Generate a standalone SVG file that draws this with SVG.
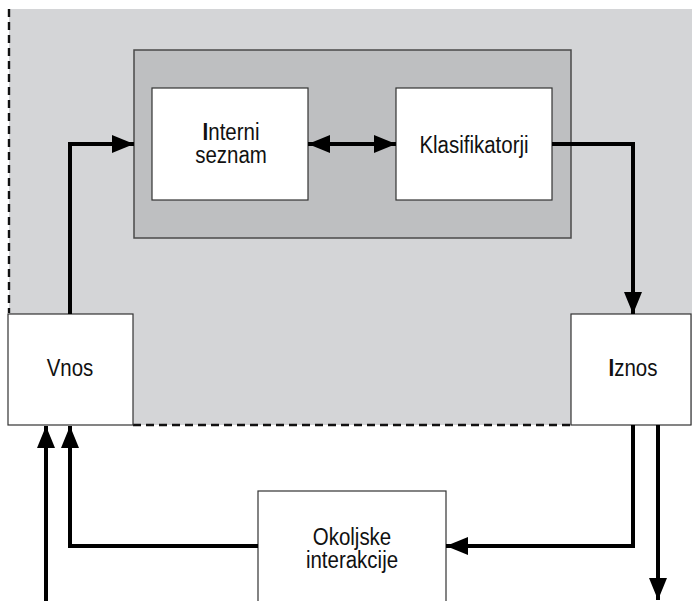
<svg xmlns="http://www.w3.org/2000/svg" width="692" height="601" viewBox="0 0 692 601">
  <defs>
    <marker id="ah" viewBox="0 0 22 18" refX="22" refY="9" markerWidth="22" markerHeight="18" markerUnits="userSpaceOnUse" orient="auto-start-reverse">
      <path d="M0,0 L22,9 L0,18 Z" fill="#000"/>
    </marker>
    <style>
      .box { fill: #fff; stroke: #333; stroke-width: 1.2; }
      .lbl { font-family: "Liberation Sans", Arial, sans-serif; font-size: 23px; fill: #111; text-anchor: middle; }
      .cap { font-weight: bold; }
      .wire { fill: none; stroke: #000; stroke-width: 4; }
      .dash { fill: none; stroke: #111; stroke-width: 2.4; stroke-dasharray: 8 5; }
    </style>
  </defs>

  <rect width="692" height="601" fill="#fff"/>

  <!-- system boundary -->
  <g id="system">
    <rect x="9" y="9" width="683" height="416" fill="#d4d5d7"/>
    <path class="dash" d="M9,9 V313"/>
    <path class="dash" d="M133,425 H571"/>
  </g>

  <!-- inner processing block -->
  <g id="core">
    <rect x="134" y="50" width="437" height="188" fill="#bebfc1" stroke="#4a4a4a" stroke-width="1.5"/>
  </g>

  <g id="interni-seznam">
    <rect class="box" x="152" y="88" width="156" height="112"/>
    <text class="lbl" transform="translate(231,140) scale(0.89,1)"><tspan x="0" y="0"><tspan class="cap">I</tspan>nterni</tspan><tspan x="0" y="23">seznam</tspan></text>
  </g>

  <g id="klasifikatorji">
    <rect class="box" x="396" y="88" width="156" height="112"/>
    <text class="lbl" transform="translate(474,153) scale(0.89,1)">Klasifikatorji</text>
  </g>

  <g id="vnos">
    <rect class="box" x="8" y="314" width="125" height="111"/>
    <text class="lbl" transform="translate(70,376) scale(0.89,1)">Vnos</text>
  </g>

  <g id="iznos">
    <rect class="box" x="571" y="314" width="120" height="111"/>
    <text class="lbl" transform="translate(633,376) scale(0.89,1)"><tspan class="cap">I</tspan>znos</text>
  </g>

  <g id="okoljske-interakcije">
    <rect class="box" x="258" y="491" width="188" height="120"/>
    <text class="lbl" transform="translate(352,545) scale(0.89,1)"><tspan x="0" y="0">Okoljske</tspan><tspan x="0" y="23">interakcije</tspan></text>
  </g>

  <!-- connectors -->
  <g id="connectors">
    <path class="wire" d="M70,314 V144 H134" marker-end="url(#ah)"/>
    <path class="wire" d="M308,144 H396" marker-start="url(#ah)" marker-end="url(#ah)"/>
    <path class="wire" d="M552,144 H633 V314" marker-end="url(#ah)"/>
    <path class="wire" d="M633,425 V546 H446" marker-end="url(#ah)"/>
    <path class="wire" d="M258,546 H70 V426" marker-end="url(#ah)"/>
    <path class="wire" d="M46,601 V426" marker-end="url(#ah)"/>
    <path class="wire" d="M658,425 V600" marker-end="url(#ah)"/>
  </g>
</svg>
